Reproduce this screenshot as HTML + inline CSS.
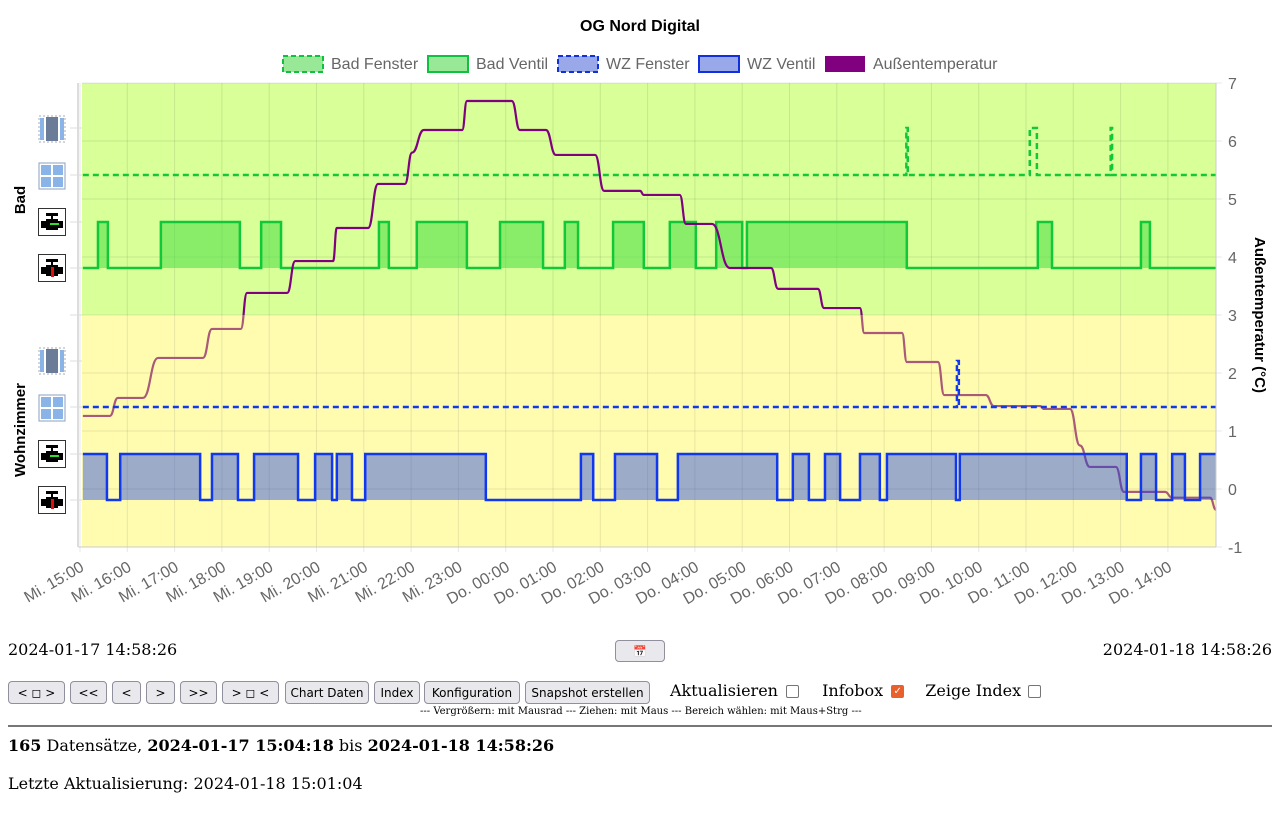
<!DOCTYPE html>
<html><head><meta charset="utf-8">
<style>
body{margin:0;width:1280px;height:835px;background:#fff;font-family:"DejaVu Serif",serif;overflow:hidden;position:relative}
.abs{position:absolute}
button{font-family:"DejaVu Sans",sans-serif;font-size:12px;height:23px;padding:0 4px;background:#e9e9ed;border:1px solid #8f8f9d;border-radius:4px;color:#000;position:absolute;top:0}
.chk{display:inline-block;width:11px;height:11px;border:1px solid #767676;border-radius:2px;vertical-align:middle;margin-left:10px;background:#fff}
</style></head><body>
<svg class="abs" style="left:0;top:0" width="1280" height="620" id="chart" font-family="Liberation Sans, sans-serif">
<defs>
<clipPath id="topclip"><rect x="0" y="0" width="1280" height="315"/></clipPath>
<clipPath id="botclip"><rect x="0" y="315" width="1280" height="305"/></clipPath>
</defs>
<text x="640" y="31" text-anchor="middle" font-size="16" font-weight="bold">OG Nord Digital</text>
<g font-size="16" fill="#666">
<g><rect x="283" y="56" width="40" height="16" fill="#98e898" stroke="#10c040" stroke-width="2" stroke-dasharray="5,3"/><text x="331" y="69">Bad Fenster</text></g>
<g><rect x="428" y="56" width="40" height="16" fill="#98e898" stroke="#10c040" stroke-width="2"/><text x="476" y="69">Bad Ventil</text></g>
<g><rect x="558" y="56" width="40" height="16" fill="#98a8e8" stroke="#1030e0" stroke-width="2" stroke-dasharray="5,3"/><text x="606" y="69">WZ Fenster</text></g>
<g><rect x="699" y="56" width="40" height="16" fill="#98a8e8" stroke="#1030e0" stroke-width="2"/><text x="747" y="69">WZ Ventil</text></g>
<g><rect x="825" y="56" width="40" height="16" fill="#800080"/><text x="873" y="69">Außentemperatur</text></g>
</g>
<rect x="82" y="83" width="1134" height="232" fill="#d8ff98"/>
<rect x="82" y="315" width="1134" height="232" fill="#fffcb0"/>
<g id="grid"></g>
<g id="badg"></g>
<g id="temp"></g>
<g id="wzg"></g>
<g id="axes"></g>
<line x1="78" y1="83" x2="78" y2="547" stroke="#ddd" stroke-width="2"/>
<text transform="translate(25,200) rotate(-90)" text-anchor="middle" font-size="15" font-weight="bold">Bad</text>
<text transform="translate(25,430) rotate(-90)" text-anchor="middle" font-size="15" font-weight="bold">Wohnzimmer</text>
<text transform="translate(1255,315) rotate(90)" text-anchor="middle" font-size="15" font-weight="bold">Außentemperatur (°C)</text>
<g id="icons"></g>
</svg>

<div class="abs" style="left:8px;top:640px;font-size:16px">2024-01-17 14:58:26</div>
<button class="abs" style="left:615px;top:640px;width:50px;height:22px;font-size:11px;color:#d03040">📅</button>
<div class="abs" style="right:8px;top:640px;font-size:16px">2024-01-18 14:58:26</div>

<div class="abs" style="left:0;top:681px;width:660px;height:24px">
<button style="left:8px;width:57px">&lt; ◻ &gt;</button>
<button style="left:70px;width:37px">&lt;&lt;</button>
<button style="left:112px;width:29px">&lt;</button>
<button style="left:146px;width:29px">&gt;</button>
<button style="left:180px;width:37px">&gt;&gt;</button>
<button style="left:222px;width:57px">&gt; ◻ &lt;</button>
<button style="left:285px;width:84px">Chart Daten</button>
<button style="left:374px;width:46px">Index</button>
<button style="left:424px;width:96px">Konfiguration</button>
<button style="left:525px;width:125px">Snapshot erstellen</button>
</div>
<div class="abs" style="left:670px;top:681px;font-size:16px;white-space:nowrap">
<span>Aktualisieren</span><span class="chk" style="margin-left:8px"></span>
<span style="margin-left:18px">Infobox</span><span class="chk" style="margin-left:8px;background:#e8602c;border-color:#e8602c;color:#fff;font-size:10px;line-height:11px;text-align:center">✓</span>
<span style="margin-left:16px">Zeige Index</span><span class="chk" style="margin-left:7px"></span>
</div>
<div class="abs" style="left:420px;top:706px;width:440px;text-align:center;font-size:10px;white-space:nowrap">--- Vergrößern: mit Mausrad --- Ziehen: mit Maus --- Bereich wählen: mit Maus+Strg ---</div>
<div class="abs" style="left:8px;top:725px;width:1264px;border-top:2px solid #777"></div>
<div class="abs" style="left:8px;top:736px;font-size:16px;white-space:nowrap"><b>165</b> Datensätze, <b>2024-01-17 15:04:18</b> bis <b>2024-01-18 14:58:26</b></div>
<div class="abs" style="left:8px;top:774px;font-size:16px;white-space:nowrap">Letzte Aktualisierung: 2024-01-18 15:01:04</div>

<script>
// hours since Mi. 15:00
const tickLabels=["Mi. 15:00","Mi. 16:00","Mi. 17:00","Mi. 18:00","Mi. 19:00","Mi. 20:00","Mi. 21:00","Mi. 22:00","Mi. 23:00","Do. 00:00","Do. 01:00","Do. 02:00","Do. 03:00","Do. 04:00","Do. 05:00","Do. 06:00","Do. 07:00","Do. 08:00","Do. 09:00","Do. 10:00","Do. 11:00","Do. 12:00","Do. 13:00","Do. 14:00"];
const yTicks=[-1,0,1,2,3,4,5,6,7];
const tempHours=[0.06,0.63,0.80,1.33,1.65,2.60,2.79,3.40,3.53,4.38,4.55,5.35,5.43,6.09,6.30,6.87,7.02,7.27,8.08,8.18,9.13,9.30,9.85,10.06,10.89,11.08,11.84,11.92,12.68,12.81,13.36,13.74,14.61,14.76,15.60,15.73,16.49,16.58,17.38,17.48,18.14,18.27,19.15,19.32,20.30,20.38,20.93,21.14,21.35,21.90,22.07,22.94,23.09,23.89,24.02];
const tempValues=[1.26,1.26,1.57,1.57,2.26,2.26,2.76,2.76,3.38,3.38,3.93,3.93,4.5,4.5,5.26,5.26,5.8,6.19,6.19,6.69,6.69,6.19,6.19,5.76,5.76,5.14,5.14,5.07,5.07,4.57,4.57,3.81,3.81,3.45,3.45,3.12,3.12,2.69,2.69,2.19,2.19,1.62,1.62,1.43,1.43,1.38,1.38,0.75,0.38,0.38,-0.05,-0.05,-0.15,-0.15,-0.36];
const badVentilOpen=[[0.38,0.59],[1.71,3.38],[3.83,4.25],[6.32,6.53],[7.12,8.18],[8.88,9.79],[10.25,10.53],[11.27,11.92],[12.47,13.02],[13.45,14.0],[14.10,17.48],[20.25,20.55],[22.43,22.62]];
const badFensterOpen=[[17.47,17.50],[20.08,20.23],[21.79,21.82]];
const wzVentilClosed=[[0.57,0.85],[2.54,2.79],[3.34,3.68],[4.61,4.97],[5.33,5.43],[5.75,6.03],[8.58,10.59],[10.85,11.31],[12.20,12.64],[14.74,15.07],[15.41,15.75],[16.07,16.49],[16.91,17.06],[18.52,18.60],[22.13,22.43],[22.75,23.09],[23.36,23.68]];
const wzFensterOpen=[[18.54,18.58]];
const T0=0.06,T1=24.02;

const NS="http://www.w3.org/2000/svg";
const X=h=>80+47.3*h;
const Y=t=>489-58*t;
function mk(p,tag,at){const e=document.createElementNS(NS,tag);for(const k in at)e.setAttribute(k,at[k]);p.appendChild(e);return e;}
const grid=document.getElementById('grid'),axes=document.getElementById('axes');
tickLabels.forEach((l,i)=>{const x=X(i);
 const g=mk(grid,'line',{x1:x,y1:83,x2:x,y2:552,stroke:'rgba(0,0,0,0.09)'});
 
 
 const t=mk(axes,'text',{x:x+5,y:570,'text-anchor':'end','font-size':16,fill:'#666',transform:`rotate(-30 ${x+5} 570)`});t.textContent=l;
 
 
});
yTicks.forEach(v=>{const y=Y(v);
 const g=mk(grid,'line',{x1:82,y1:y,x2:1222,y2:y,stroke:'rgba(0,0,0,0.09)'});
 
 
 const t=mk(axes,'text',{x:1228,y:y+6,'font-size':16,fill:'#666'});t.textContent=v;
 
 
});
mk(axes,'line',{x1:1216,y1:83,x2:1216,y2:547,stroke:'#ccc'});
mk(axes,'line',{x1:78,y1:547,x2:1216,y2:547,stroke:'#ccc'});
[128,175,222,268,315,361,407,454,500].forEach(y=>mk(grid,'line',{x1:70,y1:y,x2:82,y2:y,stroke:'#ddd'}));

function stepPath(intervals,lo,hi,invert){
 let pts=[],state0=invert?hi:lo,state1=invert?lo:hi;
 pts.push([X(T0),state0]);
 intervals.forEach(([a,b])=>{pts.push([X(a),state0],[X(a),state1],[X(b),state1],[X(b),state0]);});
 pts.push([X(T1),state0]);return pts;}
function draw(g,pts,base,fill,stroke,dash,name){
 if(fill){const a=mk(g,'path',{d:'M'+pts.map(p=>p.join(',')).join('L')+`L${X(T1)},${base}L${X(T0)},${base}Z`,fill:fill,stroke:'none'});
  
  }
 const l=mk(g,'polyline',{points:pts.map(p=>p.join(',')).join(' '),fill:'none',stroke:stroke,'stroke-width':2.5,'stroke-dasharray':dash||'none'});
 
 
}
const badg=document.getElementById('badg'),wzg=document.getElementById('wzg');
draw(badg,stepPath(badFensterOpen,175,128,false),0,null,'#10c838','6,4','bad-fenster');
draw(badg,stepPath(badVentilOpen,268,222,false),268,'rgba(60,220,60,0.5)','#10c838',null,'bad-ventil');
draw(wzg,stepPath(wzFensterOpen,407,361,false),0,null,'#1038f0','6,4','wz-fenster');
draw(wzg,stepPath(wzVentilClosed,500,454,true),500,'rgba(20,60,230,0.42)','#1038f0',null,'wz-ventil');

let d='M'+X(tempHours[0])+','+Y(tempValues[0]);
for(let i=1;i<tempHours.length;i++){
 const x0=X(tempHours[i-1]),y0=Y(tempValues[i-1]),x1=X(tempHours[i]),y1=Y(tempValues[i]);
 const dx=(x1-x0)/2;
 d+=` C${x0+dx},${y0} ${x1-dx},${y1} ${x1},${y1}`;
}
const tg=document.getElementById('temp');
const tp=mk(tg,'path',{d:d,fill:'none',stroke:'#800080','stroke-width':2.2,'clip-path':'url(#topclip)'});


const tp2=mk(tg,'path',{d:d,fill:'none',stroke:'#a85a78','stroke-width':2.2,'clip-path':'url(#botclip)'});



const icons=document.getElementById('icons');
function icon(type,cy){const g=mk(icons,'g',{transform:`translate(38,${cy-14})`});
 if(type==='wopen'){mk(g,'rect',{x:1,y:1,width:26,height:26,fill:'#fff',stroke:'#aab',"stroke-dasharray":'2,2'});mk(g,'rect',{x:2,y:3,width:4,height:22,fill:'#8ab4e8'});mk(g,'rect',{x:22,y:3,width:4,height:22,fill:'#8ab4e8'});mk(g,'rect',{x:8,y:2,width:12,height:24,fill:'#6a7c98'});}
 else if(type==='wclosed'){mk(g,'rect',{x:1,y:1,width:26,height:26,fill:'#fff',stroke:'#8aa0c0'});[[3,3],[15,3],[3,15],[15,15]].forEach(p=>mk(g,'rect',{x:p[0],y:p[1],width:10,height:10,fill:'#8ab4e8'}));}
 else{mk(g,'rect',{x:0.5,y:0.5,width:27,height:27,fill:'#fff',stroke:'#333'});mk(g,'rect',{x:8,y:5,width:12,height:3,fill:'#000'});mk(g,'rect',{x:13,y:5,width:2,height:8,fill:'#000'});mk(g,'rect',{x:3,y:13,width:22,height:7,fill:'#000'});mk(g,'rect',{x:8,y:11,width:12,height:11,fill:'#000'});
  if(type==='vopen')mk(g,'rect',{x:12,y:15,width:9,height:2,fill:'#30e030'});else mk(g,'rect',{x:13,y:13,width:3,height:10,fill:'#e01010'});}
 
 
}
icon('wopen',129);icon('wclosed',176);icon('vopen',222);icon('vclosed',268);
icon('wopen',361);icon('wclosed',408);icon('vopen',454);icon('vclosed',500);
</script>
</body></html>
